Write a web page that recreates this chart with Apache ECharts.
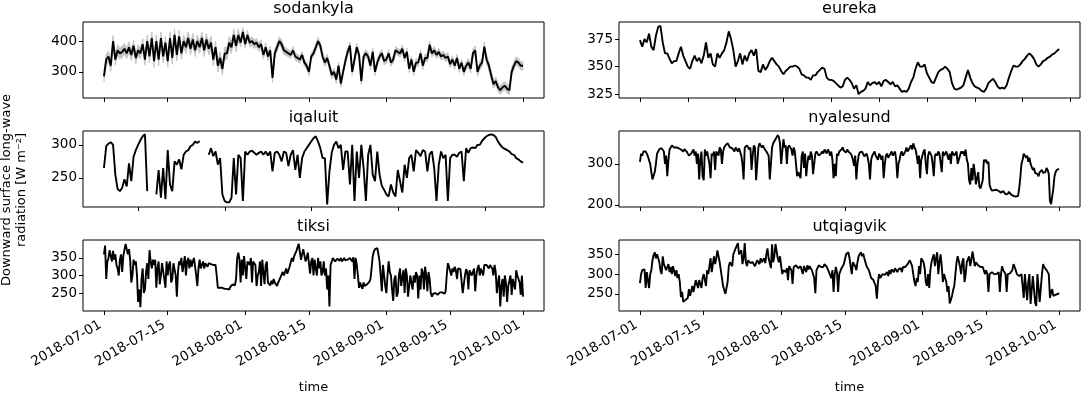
<!DOCTYPE html>
<html>
<head>
    <meta charset="utf-8">
    <title>Downward long-wave radiation</title>
    <script src="https://cdn.jsdelivr.net/npm/echarts@6/dist/echarts.min.js"></script>
</head>
<body style="margin:0;background:#fff">
    <div id="main" style="width:1083px;height:395px;"></div>
    <script type="text/javascript">
        // every series runs 2018-07-01 00:00 .. 2018-10-01 00:00, evenly spaced
        // (185 values = 12-hourly, 369 values = 6-hourly)
        var stations = ['sodankyla', 'eureka', 'iqaluit', 'nyalesund', 'tiksi', 'utqiagvik'];
        var tickDates = ['2018-07-01', '2018-07-15', '2018-08-01', '2018-08-15', '2018-09-01', '2018-09-15', '2018-10-01'];
        // unlabelled tick marks of eureka and iqaluit, in days after 2018-07-01
        var eurekaTickDays = [0, 10.5, 21, 31.5, 42, 52.5, 63, 73.5, 84, 94.5];
        var iqaluitTickDays = [7.5, 26.6, 45.6, 64.6, 83.7];

        var sodankyla = [285,340, 350,320, 400,340, 370,360, 365,375, 360,380, 355,385, 345,370, 360,390, 340,400,
            350,410, 335,400, 340,410, 350,395, 335,410, 345,420, 355,415, 360,400, 380,410, 375,405,
            370,400, 380,410, 370,405, 375,395, 340,380, 320,345, 310,360, 360,395, 380,420, 385,420,
            395,430, 390,420, 395,400, 390,395, 380,390, 355,380, 350,370, 280,360, 380,400, 390,370,
            365,360, 355,370, 350,345, 340,355, 330,320, 300,350, 360,380, 400,385, 350,330, 345,320,
            290,300, 275,320, 262,300, 335,365, 385,300, 340,380, 355,270, 350,360, 350,320, 365,300,
            330,350, 360,335, 340,360, 330,340, 370,365, 360,375, 345,365, 310,340, 300,330, 330,360,
            320,345, 345,388, 360,370, 355,365, 350,355, 345,350, 325,340, 320,345, 310,330, 300,320,
            330,310, 360,370, 300,320, 330,382, 340,320, 290,260, 270,250, 240,250, 255,245, 240,300,
            320,335, 330,320, 320];
        // half-width of the grey spread around sodankyla, one value per 10 days
        var sodankylaSpread = [18, 20, 20, 14, 12, 12, 12, 12, 14, 14];

        var eureka = [374,368, 375,372, 380,368, 365,378, 386,387, 372,362, 362,357, 353,355, 355,362, 368,360,
            355,350, 348,355, 360,355, 358,353, 360,372, 358,362, 352,350, 362,358, 362,365, 372,382,
            375,365, 350,355, 362,352, 360,355, 362,365, 360,366, 346,345, 352,347, 350,355, 358,355,
            352,350, 346,343, 346,348, 350,350, 351,350, 348,343, 342,340, 340,338, 342,342, 345,347,
            349,348, 340,338, 338,337, 335,333, 331,332, 338,340, 338,335, 330,333, 325,327, 328,330,
            336,333, 335,336, 334,336, 332,337, 338,336, 334,336, 332,333, 330,327, 328,327, 330,336,
            340,348, 354,350, 350,352, 344,340, 336,335, 340,345, 347,348, 350,348, 345,335, 330,329,
            330,331, 333,340, 347,340, 335,332, 331,330, 328,327, 330,335, 337,339, 336,332, 330,331,
            330,333, 340,346, 351,350, 350,352, 355,357, 360,362, 360,357, 352,350, 352,355, 356,358,
            359,361, 362,364, 366];

        var iqaluit = [265,298, 302,304, 300,255, 233,230, 235,248, 237,272, 245,282, 292,300, 307,313, 316,230,
            null,null, null,225, 262,220, 265,218, 292,240, 230,275, 270,278, 263,285, 290,292, 298,300,
            305,303, 306,null, null,null, 285,295, 283,290, 270,280, 225,215, 213,213, 220,280, 225,285,
            280,215, 290,285, 290,291, 288,285, 288,290, 285,290, 284,290, 260,288, 290,285, 275,290,
            288,268, 285,292, 262,285, 250,280, 290,295, 300,305, 310,313, 305,295, 280,280, 210,260,
            288,300, 305,295, 300,262, 290,290, 240,300, 215,290, 250,300, 265,215, 285,300, 255,245,
            290,255, 238,232, 225,222, 240,228, 222,262, 245,228, 270,250, 280,285, 260,292, 288,283,
            292,290, 260,286, 290,265, 215,270, 290,280, 285,215, 280,285, 285,282, 288,290, 245,295,
            288,295, 296,295, 300,300, 306,310, 313,315, 316,315, 312,305, 300,296, 294,292, 290,286,
            285,280, 278,275, 273];

        var nyalesund = [305,325,320,330, 328,330,325,318, 320,300,280,262, 265,280,300,325, 330,336,340,338,
            335,330,300,320, 270,310,335,340, 345,348,340,342, 340,336,338,335, 335,332,330,336,
            335,330,325,320, 318,325,330,335, 320,330,300,325, 262,310,330,270, 260,335,320,330,
            330,300,265,325, 320,330,285,330, 330,320,340,335, 300,330,340,345, 348,350,345,340,
            340,338,335,330, 340,336,330,338, 335,320,300,262, 340,342,345,348, 335,340,285,320,
            345,340,260,300, 340,350,345,340, 345,338,340,330, 330,320,262,300, 340,350,355,360,
            365,370,365,350, 300,298,360,340, 345,300,340,345, 345,335,320,340, 330,300,270,280,
            280,265,320,330, 290,325,270,300, 320,310,330,320, 275,300,325,330, 330,320,318,325,
            330,325,335,330, 325,335,330,320, 330,310,265,300, 270,325,320,330, 330,335,340,332,
            330,328,335,330, 330,325,320,310, 295,320,262,300, 320,328,325,330, 330,318,320,325,
            315,300,262,310, 320,325,330,320, 320,310,325,320, 310,320,265,300, 320,325,315,320,
            325,330,320,325, 330,310,265,300, 310,325,330,320, 325,330,340,330, 330,340,345,335,
            350,340,335,320, 300,320,265,310, 320,330,335,300, 275,320,330,325, 320,300,270,320,
            325,320,330,325, 325,280,330,320, 325,330,320,310, 325,300,330,325, 320,325,330,300,
            300,320,330,325, 330,320,335,310, 300,260,250,290, 260,300,280,250, 250,280,245,240,
            240,260,310,305, 310,300,305,250, 240,235,232,236, 235,237,238,234, 235,230,232,234,
            230,226,228,227, 232,228,225,223, 222,221,220,222, 222,240,267,300, 310,325,320,315,
            320,305,315,300, 300,285,290,278, 280,275,270,280, 282,285,278,282, 280,290,285,275,
            210,202,205,240, 270,280,285,284, 288];

        var tiksi = [360,385,290,340, 350,372,355,340, 370,345,360,330, 320,300,345,360, 310,355,360,390,
            385,360,375,345, 280,300,345,330, 340,300,225,260, 210,290,320,250, 260,310,335,290,
            372,340,320,345, 330,345,265,320, 340,275,300,335, 330,290,265,340, 300,330,340,280,
            290,335,330,300, 240,310,340,330, 350,310,330,355, 300,340,350,320, 345,325,340,350,
            325,300,270,320, 345,320,330,340, 320,335,330,325, 335,330,332,334, 330,332,330,300,
            265,266,265,263, 265,264,262,263, 262,265,260,268, 270,275,280,272, 290,350,365,345,
            280,345,300,355, 350,290,340,345, 330,350,280,340, 345,330,270,300, 310,340,270,345,
            340,275,330,340, 280,275,272,285, 275,290,280,275, 270,280,285,295, 290,310,300,295,
            320,305,310,325, 330,350,340,355, 350,370,380,390, 385,345,360,375, 380,340,350,365,
            360,305,340,350, 300,345,320,300, 350,320,340,300, 310,340,300,320, 260,300,212,330,
            340,350,345,340, 340,348,345,342, 350,340,345,350, 343,348,345,340, 350,345,340,352,
            290,350,330,300, 265,280,270,262, 280,270,265,275, 270,282,290,320, 355,368,375,380,
            378,360,340,300, 255,330,300,270, 250,300,340,310, 300,260,228,290, 300,240,250,300,
            320,270,295,315, 250,320,300,240, 240,300,305,260, 300,280,310,300, 235,300,260,320,
            310,260,325,300, 255,310,290,250, 240,248,245,250, 250,245,248,252, 247,252,250,248,
            255,300,335,325, 330,300,320,310, 325,315,290,320, 320,318,315,250, 245,300,318,310,
            260,315,320,300, 310,320,255,300, 320,330,300,320, 325,300,330,325, 330,335,320,330,
            335,320,300,330, 310,250,280,300, 212,270,290,240, 300,280,225,270, 285,300,245,290,
            290,260,315,300, 300,280,245,300, 240];

        var utqiagvik = [277,300,310,312, 312,265,305,310, 265,300,310,335, 348,355,340,350, 355,330,310,300,
            345,325,320,310, 310,325,305,318, 300,320,320,295, 310,290,300,280, 242,255,230,235,
            235,232,240,262, 245,250,270,255, 250,285,280,265, 285,275,265,290, 300,285,270,310,
            300,320,340,305, 310,345,325,340, 360,345,330,310, 290,270,260,250, 245,280,320,330,
            335,320,350,345, 365,370,378,350, 345,360,325,340, 378,330,320,335, 335,328,325,330,
            330,320,325,335, 330,325,340,330, 335,340,328,350, 365,340,335,315, 375,330,345,376,
            375,340,330,345, 320,300,310,315, 305,315,285,320, 320,310,275,318, 318,322,320,315,
            315,320,318,300, 320,318,305,322, 312,320,318,310, 300,290,252,310, 315,322,320,318,
            322,318,325,320, 318,322,305,300, 290,310,255,300, 318,305,255,300, 305,315,320,325,
            330,350,345,355, 340,320,300,330, 330,320,310,330, 345,350,355,345, 352,340,330,320,
            320,310,300,290, 290,285,280,270, 238,280,300,290, 295,300,305,298, 300,305,295,310,
            300,312,310,305, 315,310,305,312, 310,315,305,318, 315,318,320,325, 325,335,340,320,
            300,280,270,290, 280,320,300,340, 345,330,315,280, 270,300,265,310, 330,340,350,320,
            340,355,300,330, 350,320,280,300, 300,280,255,270, 226,235,245,260, 270,300,330,345,
            345,320,300,330, 340,280,300,330, 330,345,320,335, 357,340,320,330, 325,322,320,318,
            320,318,315,300, 310,300,255,300, 300,305,310,300, 305,300,300,305, 255,300,320,310,
            305,300,255,300, 300,302,300,310, 325,318,310,300, 300,295,290,300, 300,240,300,295,
            234,280,300,225, 230,295,300,228, 220,300,295,230, 230,300,325,318, 320,310,305,300,
            240,255,262,245, 245,248,250,250, 252];

        var seriesValues = [sodankyla, eureka, iqaluit, nyalesund, tiksi, utqiagvik];
        var yMin = [215, 321.5, 206, 195, 199, 207];
        var yMax = [462, 390.5, 321, 380, 401, 386];
        var yTicks = [[300, 400], [325, 350, 375], [250, 300], [200, 300], [250, 300, 350], [250, 300, 350]];

        var myChart = echarts.init(document.getElementById('main'), null, {renderer: 'canvas'});

        var DAY = 24 * 3600 * 1000;
        var t0 = new Date(2018, 6, 1).getTime();
        var tEnd = new Date(2018, 9, 1).getTime();
        function timesFor(vals) {
            var step = (tEnd - t0) / (vals.length - 1), out = [];
            for (var k = 0; k < vals.length; k++) out.push(t0 + k * step);
            return out;
        }
        var dateTicks = tickDates.map(function (s) {
            var p = s.split('-');
            return new Date(+p[0], +p[1] - 1, +p[2]).getTime();
        });
        function dayTicks(days) { return days.map(function (d) { return t0 + d * DAY; }); }
        var xTicks = [dateTicks, dayTicks(eurekaTickDays), dayTicks(iqaluitTickDays), dateTicks, dateTicks, dateTicks];

        function pad(n) { return n < 10 ? '0' + n : '' + n; }
        function fmtDate(v) {
            var d = new Date(v);
            return d.getFullYear() + '-' + pad(d.getMonth() + 1) + '-' + pad(d.getDate());
        }

        var font = 'DejaVu Sans';
        var tickFont = 13.5;
        var colLeft = [83, 619], gridW = 461, rowTop = [22, 131, 240], gridH = 76;

        var grids = [], xAxes = [], yAxes = [], titles = [], series = [];
        stations.forEach(function (name, i) {
            var col = i % 2, row = Math.floor(i / 2);
            var bottom = row === 2;
            grids.push({left: colLeft[col], top: rowTop[row], width: gridW, height: gridH,
                show: true, borderColor: '#000', borderWidth: 1, backgroundColor: 'transparent'});
            // timestamps on a plain value axis, so ticks can sit on the chosen dates
            xAxes.push({
                type: 'value', gridIndex: i, scale: true,
                min: t0 - 4.6 * DAY, max: tEnd + 4.6 * DAY,
                axisLine: {show: false},
                splitLine: {show: false},
                axisTick: {show: true, length: 4, inside: false, customValues: xTicks[i],
                    lineStyle: {color: '#000', width: 1}},
                // anchor each rotated date at its lower right corner, as matplotlib does
                axisLabel: {show: bottom, customValues: xTicks[i], rotate: 30, margin: 19,
                    align: 'right', verticalAlign: 'bottom',
                    color: '#000', fontSize: tickFont, fontFamily: font, formatter: fmtDate},
                name: bottom ? 'time' : '', nameLocation: 'middle', nameGap: 70,
                nameTextStyle: {color: '#000', fontSize: 13, fontFamily: font}
            });
            yAxes.push({
                type: 'value', gridIndex: i, min: yMin[i], max: yMax[i],
                axisLine: {show: false},
                splitLine: {show: false},
                axisTick: {show: true, length: 4, inside: false, customValues: yTicks[i],
                    lineStyle: {color: '#000', width: 1}},
                axisLabel: {customValues: yTicks[i], margin: 6, color: '#000', fontSize: tickFont, fontFamily: font}
            });
            titles.push({text: name, left: colLeft[col] + gridW / 2, top: rowTop[row] - 21, textAlign: 'center',
                padding: 0, textStyle: {color: '#000', fontSize: 16, fontWeight: 'normal', fontFamily: font}});

            var vals = seriesValues[i];
            var times = timesFor(vals);
            if (name === 'sodankyla') {
                // grey spread drawn as one quad per time step
                var bandData = vals.map(function (v, k) {
                    var s = sodankylaSpread[Math.floor(k / 20)];
                    return [times[k], v - s, v + s];
                });
                series.push({
                    type: 'custom', xAxisIndex: i, yAxisIndex: i, data: bandData, silent: true, z: 1,
                    encode: {x: 0, y: [1, 2]},
                    renderItem: function (params, api) {
                        var k = params.dataIndex;
                        if (k >= bandData.length - 1) return null;
                        var a = bandData[k], b = bandData[k + 1];
                        var pts = [api.coord([a[0], a[1]]), api.coord([b[0], b[1]]),
                                   api.coord([b[0], b[2]]), api.coord([a[0], a[2]])];
                        return {type: 'polygon', shape: {points: pts},
                            style: {fill: '#c4c4c4', stroke: '#c4c4c4', lineWidth: 0.6}};
                    }
                });
            }
            series.push({
                name: name, type: 'line', xAxisIndex: i, yAxisIndex: i, z: 3,
                data: vals.map(function (v, k) { return [times[k], v]; }),
                showSymbol: false, connectNulls: false,
                lineStyle: {color: '#000', width: 1.9}
            });
        });

        var option = {
            animation: false,
            backgroundColor: '#fff',
            title: titles,
            grid: grids,
            xAxis: xAxes,
            yAxis: yAxes,
            series: series,
            graphic: [{
                type: 'text', x: 14, y: 190, rotation: Math.PI / 2,
                style: {text: 'Downward surface long-wave\nradiation [W m\u207b\u00b2]', fill: '#000',
                    font: '13px "DejaVu Sans"', textAlign: 'center', textVerticalAlign: 'middle', lineHeight: 15}
            }]
        };

        myChart.setOption(option);
    </script>
</body>
</html>
